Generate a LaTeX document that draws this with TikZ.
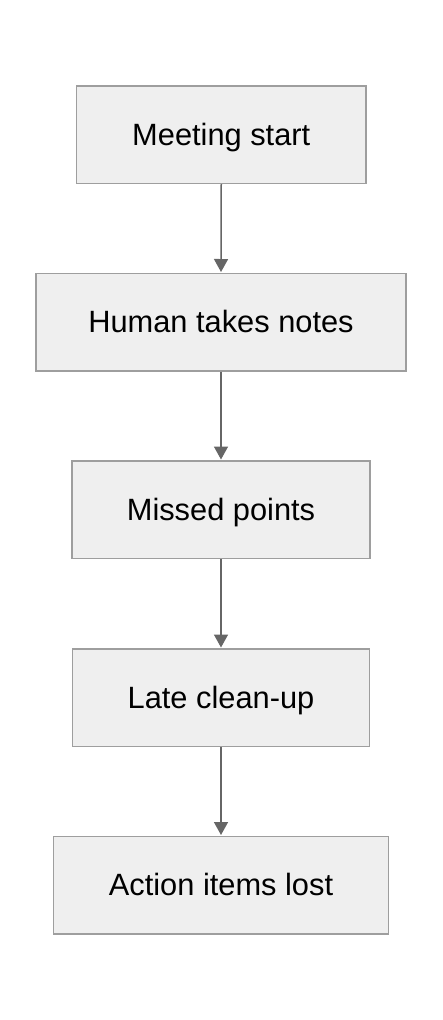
\documentclass[tikz,border=0pt]{standalone}
\usepackage{fontspec}
\setmainfont{Liberation Sans}
\usetikzlibrary{arrows.meta}
\definecolor{boxfill}{HTML}{EFEFEF}
\definecolor{boxline}{HTML}{9E9E9E}
\definecolor{arrowline}{HTML}{666666}
\begin{document}
\begin{tikzpicture}[x=1pt,y=-1pt,
  stepbox/.style={draw=boxline,fill=boxfill,line width=1.5pt,inner sep=0pt,
    minimum height=97.5pt,text height=21.8pt,text depth=0pt,
    font=\fontsize{30.8}{36}\selectfont},
  flow/.style={draw=arrowline,line width=1.5pt,-{Triangle[width=14pt,length=13pt]},shorten >=0.5pt}]
\useasboundingbox (0,0) rectangle (442,1020);
\node[stepbox,minimum width=289.5pt] (a) at (221.25,134.5) {Meeting start};
\node[stepbox,minimum width=370pt] (b) at (221,322) {Human takes notes};
\node[stepbox,minimum width=298pt] (c) at (221,509.5) {Missed points};
\node[stepbox,minimum width=297pt] (d) at (221,697.5) {Late clean-up};
\node[stepbox,minimum width=335pt] (e) at (221,885) {Action items lost};
\draw[flow] (a.south) -- (b.north);
\draw[flow] (b.south) -- (c.north);
\draw[flow] (c.south) -- (d.north);
\draw[flow] (d.south) -- (e.north);
\end{tikzpicture}
\end{document}
